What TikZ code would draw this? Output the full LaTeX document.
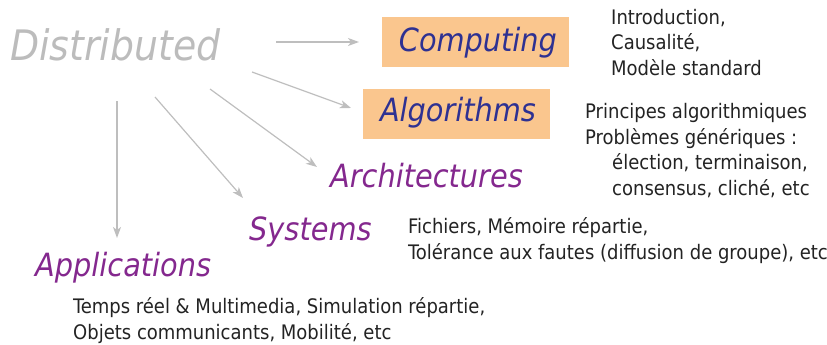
\documentclass[tikz,border=0pt]{standalone}
\usepackage{fontspec}
\setmainfont{DejaVu Sans Condensed}
\usetikzlibrary{arrows.meta,positioning}
\definecolor{distgray}{RGB}{188,188,188}
\definecolor{linkgray}{RGB}{190,190,190}
\definecolor{boxorange}{RGB}{250,198,142}
\definecolor{deepblue}{RGB}{46,49,146}
\definecolor{topicpurple}{RGB}{132,40,142}
\definecolor{notetext}{RGB}{35,35,35}
\tikzset{root node/.style={inner sep=0pt,anchor=base west,text=distgray,font=\fontsize{42}{42}\selectfont\itshape},
         box node/.style={fill=boxorange,minimum width=187pt,minimum height=50pt,inner sep=0pt},
         box text/.style={inner sep=0pt,anchor=base,text=deepblue,font=\fontsize{32}{32}\selectfont\itshape},
         topic node/.style={inner sep=0pt,anchor=base west,text=topicpurple,font=\fontsize{32}{32}\selectfont\itshape},
         note node/.style={inner sep=0pt,anchor=base west,align=left,text=notetext,font=\fontsize{20}{25.5}\selectfont},
         link/.style={-{Stealth[length=11pt,width=8pt,inset=3pt]},draw=linkgray,line width=1.2pt}
}
\begin{document}
\begin{tikzpicture}[x=1pt,y=-1pt]
\useasboundingbox (0,0) rectangle (827,345);
\node [root node] (dist) at (10,60) {Distributed};
\node [box node] (comp) at (475.5,42) {};
\node [box node] (algo) at (456,114) {};
\node [box text] (comptxt) at (478,52) {Computing};
\node [box text] (algotxt) at (458,121) {Algorithms};
\node [topic node] (arch) at (330,187) {Architectures};
\node [topic node] (sys) at (249,240) {Systems};
\node [topic node] (appl) at (35,276) {Applications};

% notes: base west is the last line
\node [note node] (compnote) at (611,75) {Introduction,\\Causalité,\\Modèle standard};
\node [note node] (algonote) at (585,195) {Principes algorithmiques\\Problèmes génériques :\\\hspace{27pt}élection, terminaison,\\\hspace{27pt}consensus, cliché, etc};
\node [note node] (sysnote) at (408,259) {Fichiers, Mémoire répartie,\\Tolérance aux fautes (diffusion de groupe), etc};
\node [note node] (applnote) at (73,339) {Temps réel \& Multimedia, Simulation répartie,\\Objets communicants, Mobilité, etc};

\coordinate (d1) at (276,42);
\coordinate (d2) at (252,72);
\coordinate (d3) at (210,89);
\coordinate (d4) at (155,97);
\coordinate (d5) at (117,101);
\coordinate (e1) at (359,42);
\coordinate (e2) at (351,108);
\coordinate (e3) at (317,167);
\coordinate (e4) at (243,198);
\coordinate (e5) at (117,238);
\foreach \i in {1,...,5}
  \draw [link] (d\i) -- (e\i);
\end{tikzpicture}
\end{document}
